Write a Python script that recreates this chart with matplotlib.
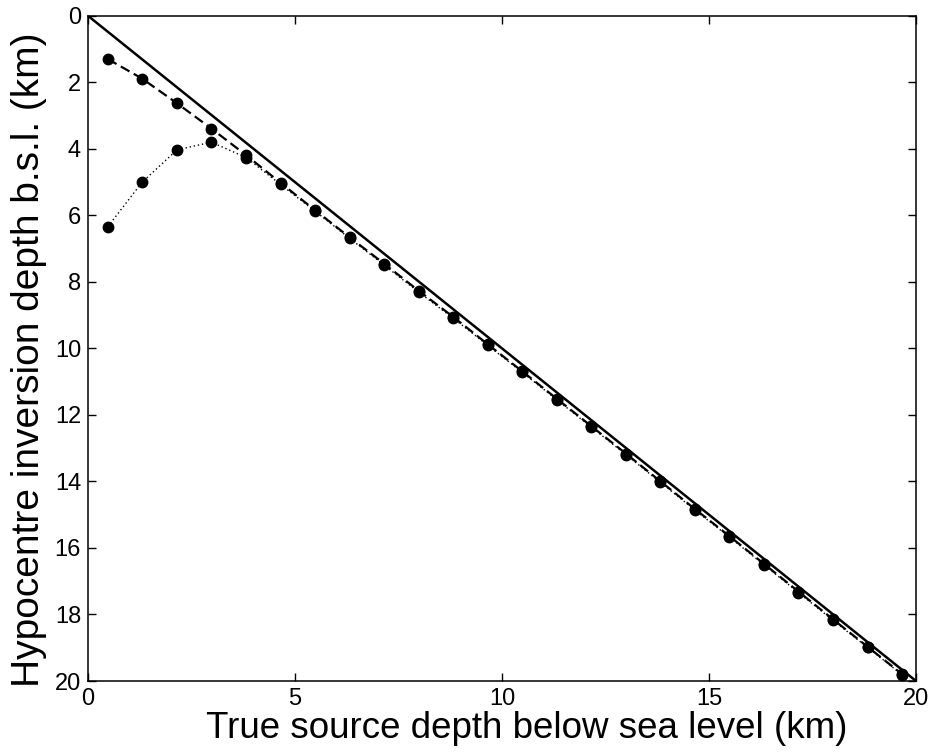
import matplotlib
matplotlib.use("Agg")
import matplotlib.pyplot as plt

plt.rcParams["font.family"] = ["Liberation Sans", "DejaVu Sans"]

# true source depth (km)
true_depth = [0.48, 1.31, 2.15, 2.98, 3.82, 4.65, 5.48, 6.32, 7.15, 7.99, 8.82, 9.65,
              10.49, 11.32, 12.16, 12.99, 13.82, 14.66, 15.49, 16.33, 17.16, 17.99, 18.83, 19.66]

# inverted hypocentre depth, two cases
depth_dashed = [1.30, 1.89, 2.63, 3.39, 4.19, 5.02, 5.84, 6.66, 7.45, 8.27, 9.05, 9.87,
                10.69, 11.51, 12.34, 13.16, 13.99, 14.83, 15.64, 16.48, 17.31, 18.14, 18.97, 19.79]
depth_dotted = [6.34, 5.00, 4.03, 3.80, 4.26, 5.07, 5.87, 6.69, 7.49, 8.31, 9.09, 9.90,
                10.72, 11.54, 12.37, 13.19, 14.02, 14.86, 15.67, 16.51, 17.34, 18.17, 18.99, 19.81]

ref_line = [0, 20]

fig = plt.figure(figsize=(9.33, 7.53), dpi=100)
ax = fig.add_axes([0.0943, 0.0956, 0.8875, 0.8834])

ax.plot(ref_line, ref_line, color="black", lw=1.8)
ax.plot(true_depth, depth_dashed, color="black", lw=1.6, ls=(0, (4.5, 2.2)),
        marker="o", ms=7.5)
ax.plot(true_depth, depth_dotted, color="black", lw=1.0, ls=(0, (1, 2)),
        marker="o", ms=7.5)

ax.set_xlim(0, 20)
ax.set_ylim(20, 0)
ax.set_xticks([0, 5, 10, 15, 20])
ax.set_yticks(range(0, 21, 2))
ax.tick_params(direction="in", length=6, width=1, top=True, right=True,
               labelsize=17, pad=5)
for s in ax.spines.values():
    s.set_linewidth(1.1)

ax.set_xlabel("True source depth below sea level (km)", fontsize=26.5)
ax.set_ylabel("Hypocentre inversion depth b.s.l. (km)", fontsize=28)
ax.xaxis.set_label_coords(0.53, -0.045)
ax.yaxis.set_label_coords(-0.05, 0.483)

fig.savefig("out.png", dpi=100)
